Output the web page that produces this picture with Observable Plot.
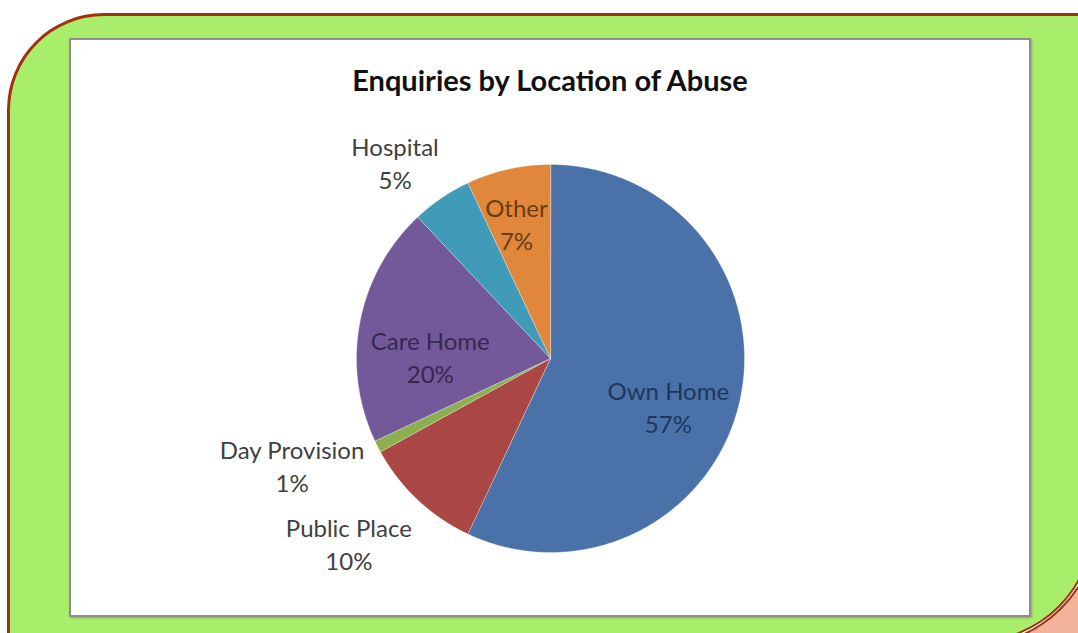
<!DOCTYPE html>
<html>
<head>
<meta charset="utf-8">
<script src="https://cdn.jsdelivr.net/npm/d3@7"></script>
<script src="https://cdn.jsdelivr.net/npm/@observablehq/plot@0.6"></script>
<style>
  html, body { margin: 0; padding: 0; background: #ffffff; }
  #stage { position: relative; width: 1078px; height: 633px; overflow: hidden; background: #ffffff; font-family: Lato, "Open Sans", sans-serif; }
  #fold { position: absolute; left: 940px; top: 520px; width: 200px; height: 200px; background: #F2B39B; }
  #foldEdge { position: absolute; left: -20px; top: -20px; width: 1120px; height: 667px; background: #ffffff;
              border-right: 2px solid #A3300F; border-bottom: 2px solid #A3300F; border-bottom-right-radius: 130px; box-sizing: border-box; }
  #green { position: absolute; left: 7px; top: 13px; width: 1087px; height: 629px; background: #A9EE6B;
           border-top: 3px solid #A3300F; border-left: 3px solid #A3300F; border-right: 2px solid #A3300F; border-bottom: 2px solid #A3300F;
           border-top-left-radius: 97px; border-bottom-right-radius: 118px; box-sizing: border-box; }
  #box { position: absolute; left: 69px; top: 38px; width: 962px; height: 579px; background: #ffffff;
         border: 2px solid #8E8E8E; box-sizing: border-box; box-shadow: 1px 1px 2px rgba(0,0,0,0.25); }
  #title { position: absolute; left: 69px; width: 962px; top: 62px; text-align: center; font-weight: bold; font-size: 29px; line-height: 36px; color: #111; }
  #chart { position: absolute; left: 71px; top: 40px; }
</style>
</head>
<body>
<div id="stage">
  <div id="fold"></div>
  <div id="foldEdge"></div>
  <div id="green"></div>
  <div id="box"></div>
  <div id="title">Enquiries by Location of Abuse</div>
  <div id="chart"></div>
</div>
<script>
// ---- data ----
const categories = ["Own Home", "Public Place", "Day Provision", "Care Home", "Hospital", "Other"];
const percents = [57, 10, 1, 20, 5, 7];

// ---- styles / layout ----
const sliceColors = ["#4A72A8", "#AA4643", "#8CB050", "#73589A", "#3F9BB8", "#E1873C"];
const labelColors = ["#1C3760", "#404040", "#404040", "#36294F", "#404040", "#6B3B12"];
const labelRadius = [0.655, 1.41, 1.44, 0.62, 1.29, 0.72];   // in pie radii
const labelNudge = [9.4, 4.3, 4.7, -9.4, -4.2, -1.5];        // degrees
const W = 958, H = 575, R = 194, CX = 479, CY = 318;

const pie = d3.pie().sort(null).value(d => d)(percents);

const slicePts = [];
pie.forEach((p, i) => {
  const n = Math.max(4, Math.ceil((p.endAngle - p.startAngle) / 0.005));
  slicePts.push({name: categories[i], x: 0, y: 0});
  for (let k = 0; k <= n; k++) {
    const a = p.startAngle + (p.endAngle - p.startAngle) * k / n;
    slicePts.push({name: categories[i], x: Math.sin(a), y: Math.cos(a)});
  }
});

const labels = pie.map((p, i) => {
  const a = (p.startAngle + p.endAngle) / 2 + labelNudge[i] * Math.PI / 180;
  return {name: categories[i], text: categories[i] + "\n" + percents[i] + "%",
          x: labelRadius[i] * Math.sin(a), y: labelRadius[i] * Math.cos(a), color: labelColors[i]};
});

const chart = Plot.plot({
  width: W, height: H,
  marginTop: 0, marginBottom: 0, marginLeft: 0, marginRight: 0,
  style: {background: "transparent", fontFamily: "Lato, 'Open Sans', sans-serif"},
  x: {domain: [-CX / R, (W - CX) / R], axis: null},
  y: {domain: [-(H - CY) / R, CY / R], axis: null},
  color: {domain: categories, range: sliceColors},
  marks: [
    Plot.line(slicePts, {x: "x", y: "y", z: "name", fill: "name", stroke: "white", strokeWidth: 0.8, strokeOpacity: 0.4, curve: "linear-closed"}),
    Plot.text(labels, {x: "x", y: "y", text: "text", fill: "color", fontSize: 24, lineHeight: 1.375, lineAnchor: "middle", textAnchor: "middle"})
  ]
});
document.getElementById("chart").appendChild(chart);
</script>
</body>
</html>
